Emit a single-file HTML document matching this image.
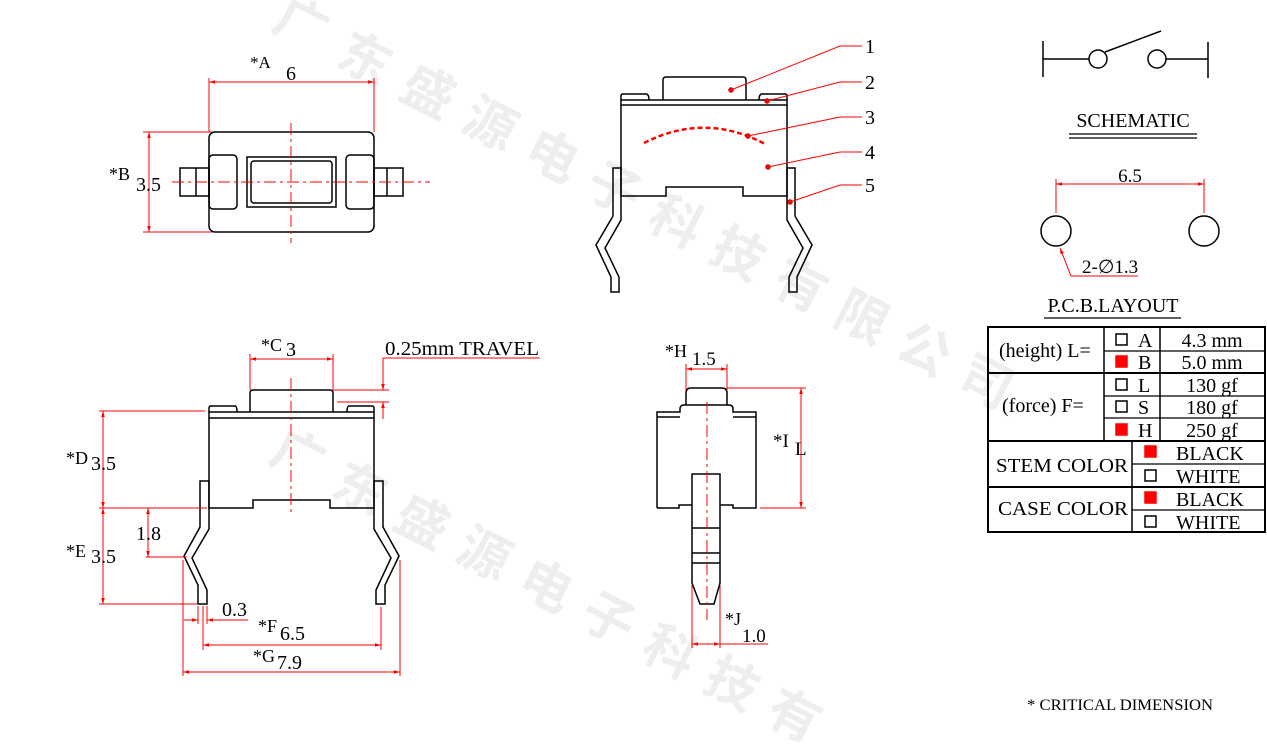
<!DOCTYPE html>
<html><head><meta charset="utf-8"><style>
html,body{margin:0;padding:0;background:#fff;width:1267px;height:745px;overflow:hidden}
svg{display:block}
text{font-family:"Liberation Serif",serif;fill:#000}
.wm{font-family:"Noto Sans CJK SC",sans-serif;font-size:52px;font-weight:bold;fill:#eeeeee}
.k{stroke:#000;stroke-width:1.5;fill:none}
.r{stroke:#f00;stroke-width:1;fill:none}
.rd{stroke:#f00;stroke-width:1;fill:none;stroke-dasharray:12,4,3,4}
</style></head><body>
<svg width="1267" height="745" viewBox="0 0 1267 745" xmlns="http://www.w3.org/2000/svg">
<defs>
<marker id="a" viewBox="0 0 10 10" refX="10" refY="5" markerWidth="8" markerHeight="6" orient="auto-start-reverse" markerUnits="userSpaceOnUse"><path d="M0,2 L10,5 L0,8z" fill="#f00"/></marker>
</defs>
<g>
<text class="wm" transform="translate(293,40) rotate(27)" text-anchor="middle">广</text>
<text class="wm" transform="translate(357,75) rotate(27)" text-anchor="middle">东</text>
<text class="wm" transform="translate(420,108) rotate(27)" text-anchor="middle">盛</text>
<text class="wm" transform="translate(482,140) rotate(27)" text-anchor="middle">源</text>
<text class="wm" transform="translate(544,172) rotate(27)" text-anchor="middle">电</text>
<text class="wm" transform="translate(606,205) rotate(27)" text-anchor="middle">子</text>
<text class="wm" transform="translate(668,238) rotate(27)" text-anchor="middle">科</text>
<text class="wm" transform="translate(730,270) rotate(27)" text-anchor="middle">技</text>
<text class="wm" transform="translate(792,302) rotate(27)" text-anchor="middle">有</text>
<text class="wm" transform="translate(854,334) rotate(27)" text-anchor="middle">限</text>
<text class="wm" transform="translate(916,366) rotate(27)" text-anchor="middle">公</text>
<text class="wm" transform="translate(978,398) rotate(27)" text-anchor="middle">司</text>
<text class="wm" transform="translate(290,472) rotate(27)" text-anchor="middle">广</text>
<text class="wm" transform="translate(352,505) rotate(27)" text-anchor="middle">东</text>
<text class="wm" transform="translate(414,538) rotate(27)" text-anchor="middle">盛</text>
<text class="wm" transform="translate(476,570) rotate(27)" text-anchor="middle">源</text>
<text class="wm" transform="translate(538,602) rotate(27)" text-anchor="middle">电</text>
<text class="wm" transform="translate(600,635) rotate(27)" text-anchor="middle">子</text>
<text class="wm" transform="translate(662,668) rotate(27)" text-anchor="middle">科</text>
<text class="wm" transform="translate(724,700) rotate(27)" text-anchor="middle">技</text>
<text class="wm" transform="translate(786,732) rotate(27)" text-anchor="middle">有</text>
</g>

<rect class="k" x="209" y="132" width="165" height="100" rx="6"/>
<rect class="k" x="209" y="155" width="28" height="54" rx="4"/>
<rect class="k" x="346" y="155" width="28" height="54" rx="4"/>
<rect class="k" x="247" y="157" width="89" height="50"/>
<rect class="k" x="251" y="161" width="81" height="42" rx="3"/>
<rect class="k" x="180" y="168" width="29" height="28"/>
<line class="k" x1="196" y1="168" x2="196" y2="196"/>
<rect class="k" x="374" y="168" width="29" height="28"/>
<line class="k" x1="387" y1="168" x2="387" y2="196"/>
<line class="rd" x1="172" y1="182" x2="430" y2="182"/>
<line class="rd" x1="291" y1="123" x2="291" y2="243"/>
<line class="r" x1="209" y1="78" x2="209" y2="132"/>
<line class="r" x1="374" y1="78" x2="374" y2="132"/>
<line class="r" x1="209" y1="82" x2="374" y2="82" marker-start="url(#a)" marker-end="url(#a)"/>
<text x="250" y="68" font-size="17">*A</text><text x="286" y="80" font-size="20">6</text>
<line class="r" x1="143" y1="132" x2="212" y2="132"/>
<line class="r" x1="143" y1="232" x2="212" y2="232"/>
<line class="r" x1="149" y1="132" x2="149" y2="232" marker-start="url(#a)" marker-end="url(#a)"/>
<text x="109" y="180" font-size="18">*B</text><text x="136" y="191" font-size="20">3.5</text>

<path class="k" d="M663,100 V80 q0,-3 3,-3 H743 q3,0 3,3 V100"/>
<path class="k" d="M621,100 V96 q0,-2 2,-2 H646 q3,0 3,6"/>
<path class="k" d="M759,100 q0,-6 3,-6 H785 q2,0 2,2 V100"/>
<rect class="k" x="621" y="100" width="166" height="5"/>
<path class="k" d="M621,105 V196 H666 V187 H743 V196 H787 V105"/>
<path class="k" d="M621,168 H613 V216 L596,245 L611,277 V292 H619 V277 L605,248 L621,220 Z"/>
<path class="k" d="M787,168 H795 V216 L812,245 L797,277 V292 H789 V277 L803,248 L787,220 Z"/>
<path d="M644,143 Q705,112 765,144" stroke="#f00" stroke-width="2.5" fill="none" stroke-dasharray="5,3"/>
<g stroke="#f00" stroke-width="1" fill="none">
<polyline points="731,90 840,46 862,46"/>
<polyline points="767,101 840,82 862,82"/>
<polyline points="748,136 840,117 862,117"/>
<polyline points="768,167 840,152 862,152"/>
<polyline points="790,202 840,185 862,185"/>
</g>
<g fill="#f00" stroke="#900" stroke-width="0.5">
<circle cx="731" cy="90" r="2.5"/><circle cx="767" cy="101" r="2.5"/><circle cx="748" cy="136" r="2.5"/><circle cx="768" cy="167" r="2.5"/><circle cx="790" cy="202" r="2.5"/>
</g>
<g font-size="20"><text x="865" y="53">1</text><text x="865" y="89">2</text><text x="865" y="124">3</text><text x="865" y="159">4</text><text x="865" y="192">5</text></g>

<path class="k" d="M250,412 V393 q0,-3 3,-3 H330 q3,0 3,3 V412"/>
<path class="k" d="M209,412 V408 q0,-2 2,-2 H235 q2,0 2,6"/>
<path class="k" d="M347,412 q0,-6 2,-6 H372 q2,0 2,2 V412"/>
<rect class="k" x="209" y="412" width="165" height="6"/>
<path class="k" d="M209,418 V508 H253 V500 H330 V508 H374 V418"/>
<path class="k" d="M209,481 H200 V527 L184,556 L198,585 V604 H207 V590 L192,558 L209,529 Z"/>
<path class="k" d="M374,481 H383 V527 L399,556 L385,585 V604 H376 V590 L391,558 L374,529 Z"/>
<line class="rd" x1="291" y1="378" x2="291" y2="512"/>
<line class="r" x1="250" y1="354" x2="250" y2="390"/>
<line class="r" x1="333" y1="354" x2="333" y2="390"/>
<line class="r" x1="250" y1="359" x2="333" y2="359" marker-start="url(#a)" marker-end="url(#a)"/>
<text x="261" y="351" font-size="18">*C</text><text x="286" y="356" font-size="20">3</text>
<line class="r" x1="333" y1="390" x2="389" y2="390"/>
<line class="r" x1="337" y1="402" x2="389" y2="402"/>
<polyline class="r" points="540,358 383,358 383,390" marker-end="url(#a)"/>
<line class="r" x1="383" y1="419" x2="383" y2="402" marker-end="url(#a)"/>
<text x="385" y="355" font-size="20" textLength="154" lengthAdjust="spacingAndGlyphs">0.25mm TRAVEL</text>
<line class="r" x1="99" y1="411" x2="205" y2="411"/>
<line class="r" x1="99" y1="508" x2="207" y2="508"/>
<line class="r" x1="99" y1="604" x2="198" y2="604"/>
<line class="r" x1="103" y1="411" x2="103" y2="508" marker-start="url(#a)" marker-end="url(#a)"/>
<line class="r" x1="103" y1="508" x2="103" y2="604" marker-start="url(#a)" marker-end="url(#a)"/>
<text x="66" y="464" font-size="18">*D</text><text x="91" y="470" font-size="20">3.5</text>
<text x="66" y="557" font-size="18">*E</text><text x="91" y="563" font-size="20">3.5</text>
<line class="r" x1="146" y1="557" x2="187" y2="557"/>
<line class="r" x1="148" y1="508" x2="148" y2="557" marker-start="url(#a)" marker-end="url(#a)"/>
<text x="136" y="540" font-size="20">1.8</text>
<line class="r" x1="198" y1="606" x2="198" y2="624"/>
<line class="r" x1="203" y1="606" x2="203" y2="650"/>
<line class="r" x1="207" y1="606" x2="207" y2="624"/>
<line class="r" x1="184" y1="620" x2="198" y2="620" marker-end="url(#a)"/>
<line class="r" x1="248" y1="620" x2="207" y2="620" marker-end="url(#a)"/>
<text x="222" y="616" font-size="20">0.3</text>
<line class="r" x1="381" y1="607" x2="381" y2="650"/>
<line class="r" x1="203" y1="645" x2="381" y2="645" marker-start="url(#a)" marker-end="url(#a)"/>
<text x="258" y="632" font-size="18">*F</text><text x="280" y="640" font-size="20">6.5</text>
<line class="r" x1="183" y1="560" x2="183" y2="676"/>
<line class="r" x1="400" y1="560" x2="400" y2="676"/>
<line class="r" x1="183" y1="672" x2="400" y2="672" marker-start="url(#a)" marker-end="url(#a)"/>
<text x="253" y="662" font-size="18">*G</text><text x="277" y="669" font-size="20">7.9</text>

<path class="k" d="M686,405 V393 q0,-5 5,-5 H722 q5,0 5,5 V405"/>
<path class="k" d="M657,508 V412 H680 V409 q0,-4 4,-4 H729 q4,0 4,4 V412 H756 V508 H733 V505 H720"/>
<path class="k" d="M657,508 H679 V505 H692"/>
<line class="k" x1="657" y1="417" x2="680" y2="417"/><line class="k" x1="733" y1="417" x2="756" y2="417"/>
<path class="k" d="M692,474 H720 V583 L714,604 H700 L692,583 Z"/>
<line class="k" x1="692" y1="528" x2="720" y2="528"/>
<line class="k" x1="692" y1="553" x2="720" y2="553"/>
<line class="k" x1="692" y1="563" x2="720" y2="563"/>
<line class="rd" x1="707" y1="402" x2="707" y2="620"/>
<line class="r" x1="686" y1="364" x2="686" y2="390"/>
<line class="r" x1="727" y1="364" x2="727" y2="390"/>
<line class="r" x1="686" y1="369" x2="727" y2="369" marker-start="url(#a)" marker-end="url(#a)"/>
<text x="665" y="357" font-size="18">*H</text><text x="692" y="365" font-size="19">1.5</text>
<line class="r" x1="727" y1="388" x2="806" y2="388"/>
<line class="r" x1="760" y1="508" x2="806" y2="508"/>
<line class="r" x1="801" y1="388" x2="801" y2="508" marker-start="url(#a)" marker-end="url(#a)"/>
<text x="773" y="447" font-size="19">*I</text><text x="795" y="455" font-size="19">L</text>
<line class="r" x1="692" y1="585" x2="692" y2="648"/>
<line class="r" x1="720" y1="585" x2="720" y2="648"/>
<line class="r" x1="692" y1="644" x2="720" y2="644" marker-start="url(#a)" marker-end="url(#a)"/>
<line class="r" x1="720" y1="644" x2="768" y2="644"/>
<text x="725" y="625" font-size="18">*J</text><text x="742" y="642" font-size="19">1.0</text>

<g stroke="#000" stroke-width="1.5" fill="none">
<line x1="1043" y1="41" x2="1043" y2="77"/>
<line x1="1043" y1="59" x2="1089" y2="59"/>
<circle cx="1098" cy="59" r="9"/>
<line x1="1105" y1="52" x2="1161" y2="31"/>
<circle cx="1157" cy="59" r="9"/>
<line x1="1166" y1="59" x2="1208" y2="59"/>
<line x1="1208" y1="42" x2="1208" y2="78"/>
<line x1="1069" y1="134" x2="1197" y2="134" stroke-width="1.2"/>
<line x1="1069" y1="138" x2="1197" y2="138" stroke-width="1.2"/>
<circle cx="1056" cy="231" r="15"/>
<circle cx="1204" cy="231" r="15"/>
<line x1="1044" y1="318" x2="1181" y2="318" stroke-width="1.2"/>
</g>
<text x="1133" y="127" font-size="20" text-anchor="middle">SCHEMATIC</text>
<line class="r" x1="1056" y1="179" x2="1056" y2="213"/>
<line class="r" x1="1204" y1="179" x2="1204" y2="213"/>
<line class="r" x1="1056" y1="184" x2="1204" y2="184" marker-start="url(#a)" marker-end="url(#a)"/>
<text x="1130" y="182" font-size="19" text-anchor="middle">6.5</text>
<polyline class="r" points="1138,276 1071,276 1060,248" marker-end="url(#a)"/>
<text x="1082" y="273" font-size="19">2-∅1.3</text>
<text x="1113" y="312" font-size="20" text-anchor="middle">P.C.B.LAYOUT</text>

<g stroke="#000" fill="none">
<rect x="988" y="327" width="277" height="205" stroke-width="2"/>
<line x1="1104" y1="327" x2="1104" y2="441" stroke-width="1.5"/>
<line x1="1160" y1="327" x2="1160" y2="441" stroke-width="1.5"/>
<line x1="1132" y1="441" x2="1132" y2="532" stroke-width="1.5"/>
<line x1="1104" y1="351" x2="1265" y2="351" stroke-width="1.2"/>
<line x1="988" y1="373" x2="1265" y2="373" stroke-width="2"/>
<line x1="1104" y1="396" x2="1265" y2="396" stroke-width="1.2"/>
<line x1="1104" y1="418" x2="1265" y2="418" stroke-width="1.2"/>
<line x1="988" y1="441" x2="1265" y2="441" stroke-width="2"/>
<line x1="1132" y1="464" x2="1265" y2="464" stroke-width="1.2"/>
<line x1="988" y1="487" x2="1265" y2="487" stroke-width="2"/>
<line x1="1132" y1="510" x2="1265" y2="510" stroke-width="1.2"/>
</g>
<g stroke="#000" stroke-width="1.5">
<rect x="1116" y="334" width="11" height="11" fill="#fff"/>
<rect x="1116" y="356" width="11" height="11" fill="#f00" stroke="#f00"/>
<rect x="1116" y="379" width="11" height="11" fill="#fff"/>
<rect x="1116" y="401" width="11" height="11" fill="#fff"/>
<rect x="1116" y="424" width="11" height="11" fill="#f00" stroke="#f00"/>
<rect x="1145" y="446" width="11" height="11" fill="#f00" stroke="#f00"/>
<rect x="1145" y="470" width="11" height="11" fill="#fff"/>
<rect x="1145" y="492" width="11" height="11" fill="#f00" stroke="#f00"/>
<rect x="1145" y="516" width="11" height="11" fill="#fff"/>
</g>
<g font-size="20">
<text x="999" y="357">(height)  L=</text>
<text x="1002" y="412">(force) F=</text>
<text x="996" y="472" textLength="132" lengthAdjust="spacingAndGlyphs">STEM  COLOR</text>
<text x="998" y="515" textLength="130" lengthAdjust="spacingAndGlyphs">CASE  COLOR</text>
<text x="1138" y="347">A</text><text x="1138" y="369">B</text>
<text x="1138" y="392">L</text><text x="1138" y="414">S</text><text x="1138" y="437">H</text>
<text x="1212" y="347" text-anchor="middle">4.3 mm</text>
<text x="1212" y="369" text-anchor="middle">5.0 mm</text>
<text x="1212" y="392" text-anchor="middle">130 gf</text>
<text x="1212" y="414" text-anchor="middle">180 gf</text>
<text x="1212" y="437" text-anchor="middle">250 gf</text>
<text x="1176" y="460">BLACK</text>
<text x="1176" y="483">WHITE</text>
<text x="1176" y="506">BLACK</text>
<text x="1176" y="529">WHITE</text>
</g>
<text x="1027" y="710" font-size="16" textLength="186" lengthAdjust="spacingAndGlyphs">* CRITICAL  DIMENSION</text>
</svg>
</body></html>
